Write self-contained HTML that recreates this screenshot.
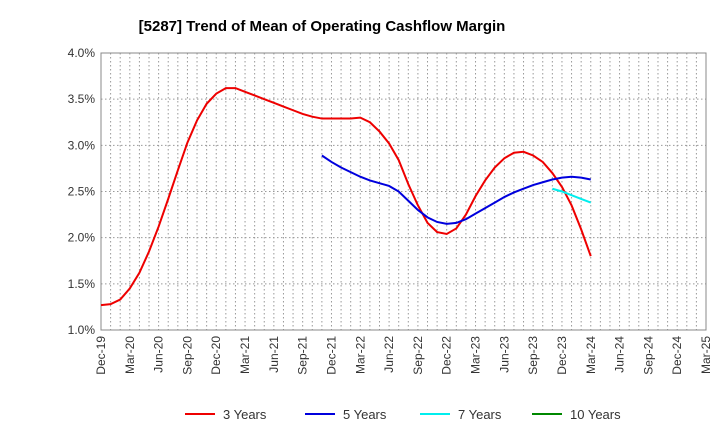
<!DOCTYPE html>
<html><head><meta charset="utf-8"><style>
body{margin:0;background:#fff;font-family:"Liberation Sans",sans-serif}
</style></head><body>
<svg id="c" width="720" height="440" xmlns="http://www.w3.org/2000/svg" font-family="Liberation Sans, sans-serif">
<text x="322" y="31" text-anchor="middle" font-size="15" font-weight="bold">[5287]  Trend of Mean of Operating Cashflow Margin</text>
<g id="grid"></g><g id="axes"></g><g id="series"></g>
<g id="legend"></g>
</svg>
<script>
const xLabels=["Dec-19","Mar-20","Jun-20","Sep-20","Dec-20","Mar-21","Jun-21","Sep-21","Dec-21","Mar-22","Jun-22","Sep-22","Dec-22","Mar-23","Jun-23","Sep-23","Dec-23","Mar-24","Jun-24","Sep-24","Dec-24","Mar-25"];
const yTicks=[1.0,1.5,2.0,2.5,3.0,3.5,4.0];
const s3=[1.27,1.28,1.33,1.45,1.62,1.85,2.12,2.42,2.73,3.03,3.27,3.45,3.56,3.62,3.62,3.58,3.54,3.50,3.46,3.42,3.38,3.34,3.31,3.29,3.29,3.29,3.29,3.30,3.25,3.15,3.02,2.84,2.58,2.35,2.16,2.06,2.04,2.10,2.25,2.45,2.62,2.76,2.86,2.92,2.93,2.89,2.82,2.70,2.55,2.35,2.09,1.80];
const s3Start=0;
const s5=[2.89,2.82,2.76,2.71,2.66,2.62,2.59,2.56,2.50,2.40,2.30,2.22,2.17,2.15,2.16,2.20,2.26,2.32,2.38,2.44,2.49,2.53,2.57,2.60,2.63,2.65,2.66,2.65,2.63];
const s5Start=23;
const s7=[2.53,2.50,2.46,2.42,2.38];
const s7Start=47;
const s10=[];
const X0=101,X1=706,Y0=330,Y1=53;
const nM=(xLabels.length-1)*3;
const xs=m=>X0+(X1-X0)*m/nM;
const ys=v=>Y0-(Y0-Y1)*(v-1)/3;
const NS="http://www.w3.org/2000/svg";
function mk(p,t,a){const e=document.createElementNS(NS,t);for(const k in a)e.setAttribute(k,a[k]);p.appendChild(e);return e;}
const g=document.getElementById('grid'),ax=document.getElementById('axes'),se=document.getElementById('series'),lg=document.getElementById('legend');
for(let m=1;m<nM;m++){const l=mk(g,'line',{x1:xs(m),x2:xs(m),y1:Y1,y2:Y0,stroke:'#999','stroke-dasharray':'1.5,2.5','stroke-width':1});}
yTicks.forEach(v=>{const l=mk(g,'line',{x1:X0,x2:X1,y1:ys(v),y2:ys(v),stroke:'#999','stroke-dasharray':'1.5,2.5'});
const t=mk(ax,'text',{x:X0-6,y:ys(v)+4,'text-anchor':'end','font-size':12,fill:'#333'});t.textContent=v.toFixed(1)+'%';});
const fr=mk(ax,'rect',{x:X0,y:Y1,width:X1-X0,height:Y0-Y1,fill:'none',stroke:'#888'});
xLabels.forEach((s,i)=>{const x=xs(i*3);const t=mk(ax,'text',{x:x+4,y:Y0+6,'text-anchor':'end','font-size':12,fill:'#333',transform:`rotate(-90 ${x+4} ${Y0+6})`});t.textContent=s;});
function line(arr,st,col,name){if(!arr.length)return;const p=mk(se,'polyline',{points:arr.map((v,i)=>xs(st+i)+','+ys(v)).join(' '),fill:'none',stroke:col,'stroke-width':2});}
line(s3,s3Start,'#e00','line-3-years');line(s5,s5Start,'#00d','line-5-years');line(s7,s7Start,'#0ee','line-7-years');line(s10,0,'#080','line-10-years');
[["3 Years","#e00",185],["5 Years","#00d",305],["7 Years","#0ee",420],["10 Years","#080",532]].forEach(([n,c,x])=>{const gg=mk(lg,'g',{});
mk(gg,'line',{x1:x,x2:x+30,y1:414,y2:414,stroke:c,'stroke-width':2});const t=mk(gg,'text',{x:x+38,y:419,'font-size':13,fill:'#333'});t.textContent=n;});
</script>
</body></html>
